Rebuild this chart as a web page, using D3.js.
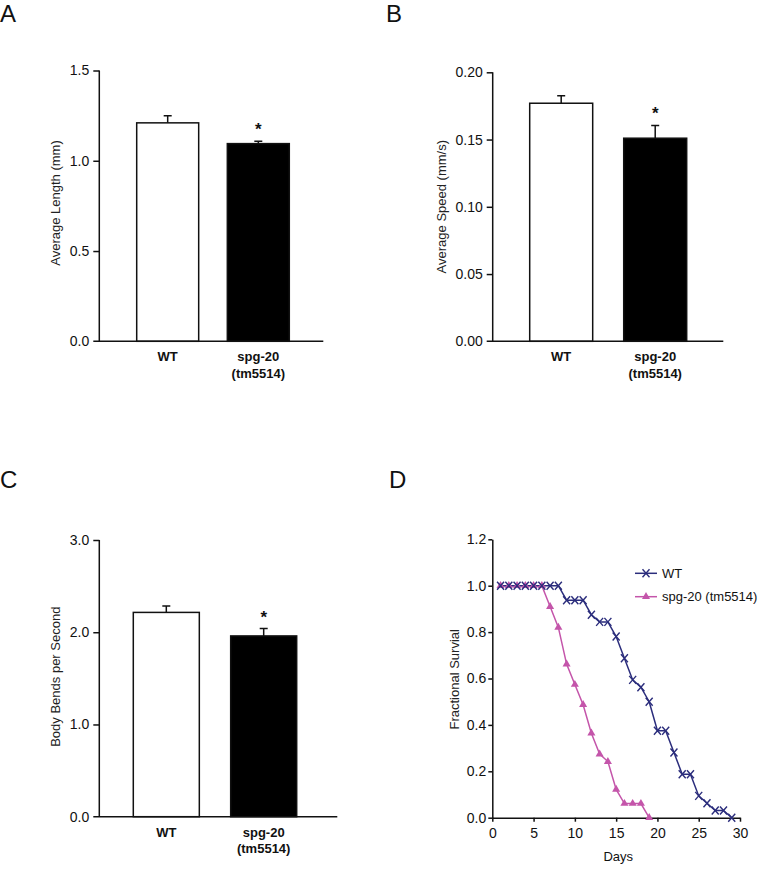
<!DOCTYPE html>
<html><head><meta charset="utf-8">
<script src="https://cdn.jsdelivr.net/npm/d3@7"></script>
<style>
html,body{margin:0;padding:0;background:#fff;}
text{font-family:"Liberation Sans",Arial,sans-serif;}
</style></head>
<body>
<svg id="c" width="758" height="884"></svg>
<script>
// ---- data ----
const categories = ["WT", "spg-20|(tm5514)"];
const lengthMeans = [1.21, 1.095];
const lengthErrs = [0.04, 0.013];
const speedMeans = [0.177, 0.151];
const speedErrs = [0.0055, 0.0095];
const bendMeans = [2.215, 1.96];
const bendErrs = [0.07, 0.08];
const lengthTicks = [0, 0.5, 1.0, 1.5];
const speedTicks = [0, 0.05, 0.10, 0.15, 0.20];
const bendTicks = [0, 1.0, 2.0, 3.0];
const significant = [false, true];

const survivalDaysWT = [1,2,3,4,5,6,7,8,9,10,11,12,13,14,15,16,17,18,19,20,21,22,23,24,25,26,27,28,29];
const survivalWT = [1,1,1,1,1,1,1,1,0.9375,0.9375,0.9375,0.875,0.844,0.844,0.781,0.6875,0.594,0.5625,0.5,0.375,0.375,0.281,0.1875,0.1875,0.094,0.0625,0.031,0.031,0];
const survivalDaysSpg = [1,2,3,4,5,6,7,8,9,10,11,12,13,14,15,16,17,18,19];
const survivalSpg = [1,1,1,1,1,1,0.91,0.82,0.662,0.574,0.487,0.364,0.274,0.242,0.122,0.061,0.061,0.061,0];
const seriesNames = ["WT", "spg-20 (tm5514)"];
const daysTicks = [0,5,10,15,20,25,30];
const survTicks = [0,0.2,0.4,0.6,0.8,1.0,1.2];

const svg = d3.select("#c");
const FONT = "\"Liberation Sans\",Arial,sans-serif";

function panelLetter(t, x, y){
  svg.append("text").attr("x", x).attr("y", y).attr("font-size", 24).attr("fill", "#111").text(t);
}

function barPanel(o){
  const g = svg.append("g");
  const y = d3.scaleLinear().domain(o.domain).range([o.y0, o.y1]);
  const x = d3.scaleBand().domain(categories).range([o.b0, o.b1]).paddingInner(o.pad).paddingOuter(0);
  const tickSize = 6;
  const ya = g.append("g").attr("transform", `translate(${o.ax},0)`)
    .call(d3.axisLeft(y).tickValues(o.ticks).tickFormat(d3.format(o.fmt)).tickSize(tickSize).tickPadding(4));
  ya.select(".domain").attr("d", `M0,${o.y0}V${o.y1}`);
  ya.selectAll("path,line").attr("stroke", "#111").attr("stroke-width", 1.5);
  ya.selectAll("text").attr("font-size", 14).attr("font-family", FONT).attr("fill", "#111");
  ya.selectAll(".tick").filter(d => d === 0).select("line").remove();
  const means = o.means, errs = o.errs;
  g.selectAll("rect.bar").data(categories).enter().append("rect")
    .attr("x", d => x(d)).attr("width", x.bandwidth())
    .attr("y", (d,i) => y(means[i])).attr("height", (d,i) => y(0) - y(means[i]))
    .attr("fill", (d,i) => i === 0 ? "#fff" : "#000")
    .attr("stroke", "#111").attr("stroke-width", 1.5);
  const cap = 4;
  g.selectAll("path.err").data(categories).enter().append("path")
    .attr("d", (d,i) => {
      const cx = x(d) + x.bandwidth()/2;
      return `M${cx},${y(means[i])}V${y(means[i]+errs[i])}M${cx-cap},${y(means[i]+errs[i])}H${cx+cap}`;
    })
    .attr("fill", "none").attr("stroke", "#111").attr("stroke-width", 1.5);
  g.selectAll("text.star").data(categories.filter((d,i) => significant[i])).enter().append("text")
    .attr("x", d => x(d) + x.bandwidth()/2)
    .attr("y", d => { const i = categories.indexOf(d); return y(means[i]+errs[i]) - 6; })
    .attr("text-anchor", "middle").attr("font-size", 17).attr("font-weight", "bold").attr("fill", "#111").text("*");
  g.append("path").attr("d", `M${o.ax - tickSize},${o.y0}H${o.xEnd}`).attr("stroke", "#111").attr("stroke-width", 1.5);
  categories.forEach((c) => {
    const parts = c.split("|");
    const t = g.append("text").attr("text-anchor", "middle").attr("font-size", 13).attr("font-weight", "bold").attr("fill", "#111");
    parts.forEach((p, j) => {
      t.append("tspan").attr("x", x(c) + x.bandwidth()/2).attr("y", o.y0 + 20 + j*16.3).text(p);
    });
  });
  g.append("text").attr("transform", `translate(${o.lx},${o.ly}) rotate(-90)`)
    .attr("text-anchor", "middle").attr("dy", "0.35em").attr("font-size", 13).attr("fill", "#222").text(o.label);
}

panelLetter("A", 0, 22);
barPanel({domain:[0,1.5], y0:341.3, y1:70.5, ax:99.3, b0:136.7, b1:289.3, pad:0.316, xEnd:323.3,
  ticks:lengthTicks, fmt:".1f", means:lengthMeans, errs:lengthErrs, lx:55, ly:203, label:"Average Length (mm)"});

panelLetter("B", 386, 22);
barPanel({domain:[0,0.2], y0:341.3, y1:72.3, ax:492.7, b0:529.7, b1:686.7, pad:0.33, xEnd:723.3,
  ticks:speedTicks, fmt:".2f", means:speedMeans, errs:speedErrs, lx:441.7, ly:206.7, label:"Average Speed (mm/s)"});

panelLetter("C", 0, 488);
barPanel({domain:[0,3], y0:816.7, y1:540, ax:99.3, b0:133.3, b1:296.7, pad:0.322, xEnd:337.3,
  ticks:bendTicks, fmt:".1f", means:bendMeans, errs:bendErrs, lx:55, ly:676.7, label:"Body Bends per Second"});

// ---- Panel D ----
panelLetter("D", 389, 488);
(function(){
  const g = svg.append("g");
  const x = d3.scaleLinear().domain([0,30]).range([492.3, 740]);
  const y = d3.scaleLinear().domain([0,1.2]).range([817.7, 539.3]);
  const xa = g.append("g").attr("transform", `translate(0,${y(0)})`)
    .call(d3.axisBottom(x).tickValues(daysTicks).tickSize(4).tickPadding(6).tickSizeOuter(0));
  const ya = g.append("g").attr("transform", `translate(${x(0)},0)`)
    .call(d3.axisLeft(y).tickValues(survTicks).tickFormat(d3.format(".1f")).tickSize(4).tickPadding(2).tickSizeOuter(0));
  [xa, ya].forEach(a => {
    a.selectAll("path,line").attr("stroke", "#111").attr("stroke-width", 1.5);
    a.selectAll("text").attr("font-size", 14).attr("font-family", FONT).attr("fill", "#111");
  });
  const navy = "#2b2d7c", pink = "#c455aa";
  const wt = survivalDaysWT.map((d,i) => [d, survivalWT[i]]);
  const sp = survivalDaysSpg.map((d,i) => [d, survivalSpg[i]]);
  const line = d3.line().x(d => x(d[0])).y(d => y(d[1]));
  g.append("path").attr("d", line(sp)).attr("fill","none").attr("stroke", pink).attr("stroke-width", 1.5);
  g.append("path").attr("d", line(wt)).attr("fill","none").attr("stroke", navy).attr("stroke-width", 1.5);
  const tri = d3.symbol().type(d3.symbolTriangle).size(28);
  const xPath = (cx, cy) => `M${cx-3.5},${cy-4}L${cx+3.5},${cy+4}M${cx+3.5},${cy-4}L${cx-3.5},${cy+4}`;
  g.selectAll("path.tri").data(sp).enter().append("path")
    .attr("transform", d => `translate(${x(d[0])},${y(d[1])})`).attr("d", tri()).attr("fill", pink);
  g.selectAll("path.xm").data(wt).enter().append("path")
    .attr("d", d => xPath(x(d[0]), y(d[1]))).attr("stroke", navy).attr("stroke-width", 1.4).attr("fill","none");
  const lg = [[navy, 573.3, "x"], [pink, 596.7, "t"]];
  lg.forEach((L, i) => {
    g.append("path").attr("d", `M635,${L[1]}H657`).attr("stroke", L[0]).attr("stroke-width", 1.5);
    if (L[2] === "x") g.append("path").attr("d", xPath(646, L[1])).attr("stroke", L[0]).attr("stroke-width", 1.4).attr("fill","none");
    else g.append("path").attr("transform", `translate(646,${L[1]})`).attr("d", tri()).attr("fill", L[0]);
    g.append("text").attr("x", 662).attr("y", L[1]).attr("dy", "0.35em").attr("font-size", 13).attr("fill", "#111").text(seriesNames[i]);
  });
  g.append("text").attr("x", 618.3).attr("y", 860.5).attr("text-anchor","middle").attr("font-size", 13).attr("fill","#111").text("Days");
  g.append("text").attr("transform", `translate(454,679.3) rotate(-90)`).attr("text-anchor","middle").attr("dy","0.35em")
    .attr("font-size", 13).attr("fill","#222").text("Fractional Survial");
})();
</script>
</body></html>
